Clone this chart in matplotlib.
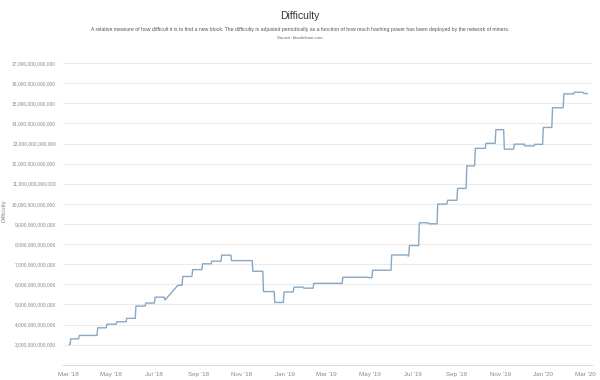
import numpy as np
import pandas as pd
import matplotlib
matplotlib.use("Agg")
import matplotlib.pyplot as plt

# difficulty adjustments (date of change, value in trillions)
dates = [
    "2018-03-03", "2018-03-05", "2018-03-17", "2018-04-12", "2018-04-25",
    "2018-05-09", "2018-05-23", "2018-06-05", "2018-06-19", "2018-07-02",
    "2018-07-16", "2018-08-03", "2018-08-10", "2018-08-24", "2018-09-07",
    "2018-09-20", "2018-10-04", "2018-10-18", "2018-11-17", "2018-12-02",
    "2018-12-18", "2018-12-31", "2019-01-14", "2019-01-28", "2019-02-11",
    "2019-03-24", "2019-04-30", "2019-05-05", "2019-06-01", "2019-06-24",
    "2019-06-26", "2019-07-10", "2019-07-24", "2019-08-05", "2019-08-19",
    "2019-09-02", "2019-09-15", "2019-09-27", "2019-10-12", "2019-10-26",
    "2019-11-07", "2019-11-21", "2019-12-06", "2019-12-20", "2020-01-01",
    "2020-01-14", "2020-01-30", "2020-02-14", "2020-02-27", "2020-03-03",
]
difficulty = [
    3.01, 3.29, 3.46, 3.84, 4.02,
    4.14, 4.31, 4.92, 5.07, 5.36,
    5.22, 5.95, 6.39, 6.73, 7.02,
    7.15, 7.45, 7.18, 6.65, 5.64,
    5.10, 5.62, 5.86, 5.81, 6.05,
    6.35, 6.33, 6.70, 7.46, 7.41,
    7.93, 9.06, 9.01, 9.99, 10.18,
    10.77, 11.89, 12.76, 13.01, 13.69,
    12.72, 12.97, 12.88, 12.96, 13.80,
    14.78, 15.47, 15.55, 15.49, 15.47,
]
# points where the chart joins with a slanted line (missing data) instead of a step
gap_after = ["2018-07-16"]

y_ticks = list(range(3, 18))
x_ticks = ["2018-03-01", "2018-05-01", "2018-07-01", "2018-09-01", "2018-11-01",
           "2019-01-01", "2019-03-01", "2019-05-01", "2019-07-01", "2019-09-01",
           "2019-11-01", "2020-01-01", "2020-03-01"]

d = pd.to_datetime(dates)
v = np.array(difficulty) * 1e12
gaps = set(pd.to_datetime(gap_after))

# build a step path, with a short slant for each adjustment
xs, ys = [d[0]], [v[0]]
for i in range(1, len(d)):
    if d[i - 1] in gaps:
        xs.append(d[i]); ys.append(v[i])
    else:
        xs.append(d[i] - pd.Timedelta(days=1)); ys.append(v[i - 1])
        xs.append(d[i]); ys.append(v[i])

plt.rcParams["font.family"] = ["Liberation Sans", "DejaVu Sans"]
fig = plt.figure(figsize=(6, 3.8), dpi=100)
ax = fig.add_axes([0.105, 0.04, 0.882, 0.794])

ax.plot(xs, ys, color="#88a8c6", linewidth=1.0)

ax.set_ylim(2e12, 17e12)
ax.set_yticks([t * 1e12 for t in y_ticks])
ax.set_yticklabels([f"{t * 10**12:,}" for t in y_ticks])
ax.set_xlim(pd.Timestamp("2018-02-22"), pd.Timestamp("2020-03-10"))
xt = pd.to_datetime(x_ticks)
ax.set_xticks(xt)
ax.set_xticklabels([t.strftime("%b '%y") for t in xt])

ax.grid(axis="y", color="#ebebeb", linewidth=0.8)
ax.set_axisbelow(True)
for s in ["top", "right", "left"]:
    ax.spines[s].set_visible(False)
ax.spines["bottom"].set_color("#dddddd")
ax.spines["bottom"].set_linewidth(0.8)
ax.tick_params(axis="x", length=0, labelsize=4.5, colors="#888888", pad=5)
ax.tick_params(axis="y", length=0, labelsize=3.5, colors="#888888", pad=5)
ax.set_ylabel("Difficulty", fontsize=4.3, color="#888888")
ax.yaxis.set_label_coords(-0.106, 0.51)

fig.text(0.5, 0.958, "Difficulty", ha="center", va="center", fontsize=7.5, color="#333333")
fig.text(0.5, 0.923,
         "A relative measure of how difficult it is to find a new block. The difficulty is adjusted periodically "
         "as a function of how much hashing power has been deployed by the network of miners.",
         ha="center", va="center", fontsize=3.7, color="#555555")
fig.text(0.5, 0.899, "Source: blockchain.com", ha="center", va="center", fontsize=3.2, color="#666666")

fig.savefig("out.png", dpi=100)
